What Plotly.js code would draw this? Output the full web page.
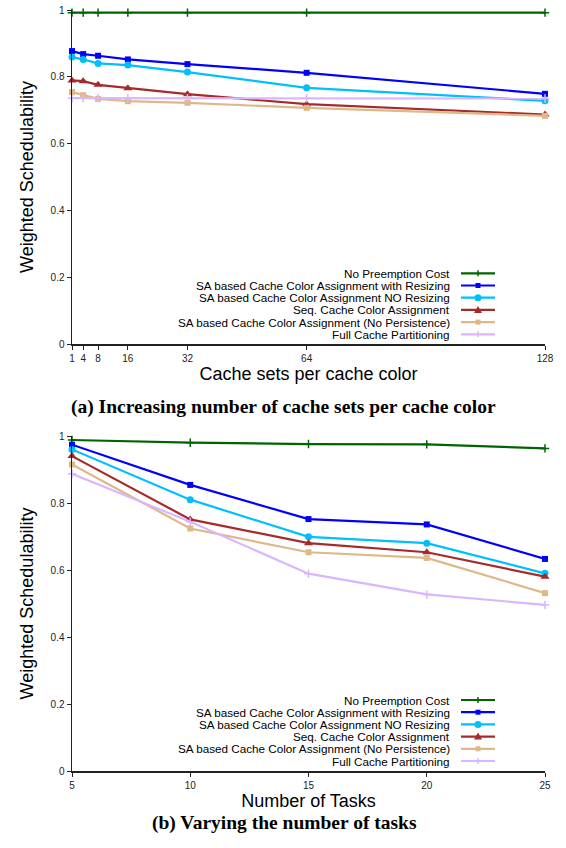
<!DOCTYPE html>
<html>
<head>
<meta charset="utf-8">
<script src="https://cdn.plot.ly/plotly-3.0.1.min.js"></script>
<style>html,body{margin:0;padding:0;background:#fff;}#chart{width:566px;height:848px;}</style>
</head>
<body>
<div id="chart"></div>
<script>
// ---- data ----
const seriesNames = [
  "No Preemption Cost",
  "SA based Cache Color Assignment with Resizing",
  "SA based Cache Color Assignment NO Resizing",
  "Seq. Cache Color Assignment",
  "SA based Cache Color Assignment (No Persistence)",
  "Full Cache Partitioning"
];
// (a) cache sets per cache color
const xA = [1, 4, 8, 16, 32, 64, 128];
const xTicksA = [1, 4, 8, 16, 32, 64, 128];
const noPreemptA = [0.992, 0.992, 0.992, 0.992, 0.992, 0.992, 0.992];
const resizeA    = [0.877, 0.868, 0.863, 0.852, 0.838, 0.812, 0.749];
const noResizeA  = [0.859, 0.852, 0.840, 0.835, 0.814, 0.767, 0.728];
const seqA       = [0.789, 0.787, 0.776, 0.766, 0.748, 0.718, 0.687];
const noPersistA = [0.754, 0.745, 0.734, 0.727, 0.722, 0.707, 0.683];
const fullA      = [0.736, 0.736, 0.736, 0.736, 0.736, 0.736, 0.735];
// (b) number of tasks
const xB = [5, 10, 15, 20, 25];
const xTicksB = [5, 10, 15, 20, 25];
const noPreemptB = [0.988, 0.980, 0.976, 0.975, 0.963];
const resizeB    = [0.974, 0.854, 0.752, 0.736, 0.633];
const noResizeB  = [0.960, 0.810, 0.699, 0.680, 0.590];
const seqB       = [0.940, 0.751, 0.680, 0.653, 0.580];
const noPersistB = [0.915, 0.724, 0.653, 0.636, 0.531];
const fullB      = [0.887, 0.744, 0.589, 0.527, 0.496];
const yTicks = [0, 0.2, 0.4, 0.6, 0.8, 1];
const yTickText = ["0", "0.2", "0.4", "0.6", "0.8", "1"];

// ---- styles ----
const colors = ["#006400", "#0000ff", "#00bfff", "#a52a2a", "#deb887", "#dab6ff"];
const symbols = ["cross-thin", "square", "circle", "triangle-up", "square", "cross-thin"];
const sizes = [6, 6, 7, 8, 6, 6];

const W = 566, H = 848;
const px = x => x / W;
const py = y => 1 - y / H;

function makeTraces(x, ys, xa, ya) {
  return ys.map((y, i) => ({
    type: "scatter", mode: "lines+markers", x: x, y: y,
    xaxis: xa, yaxis: ya, name: seriesNames[i], showlegend: false,
    cliponaxis: false,
    line: {color: colors[i], width: 2.2},
    marker: {
      color: colors[i], symbol: symbols[i], size: sizes[i],
      line: {color: colors[i], width: symbols[i] === "cross-thin" ? 1.5 : 0}
    }
  }));
}

const data = [
  ...makeTraces(xA, [noPreemptA, resizeA, noResizeA, seqA, noPersistA, fullA], "x", "y"),
  ...makeTraces(xB, [noPreemptB, resizeB, noResizeB, seqB, noPersistB, fullB], "x2", "y2")
];

const tickFont = {family: "Liberation Sans, Arial, sans-serif", size: 10, color: "#222"};
const titleFont = {family: "Liberation Sans, Arial, sans-serif", size: 18, color: "#000"};

function xaxis(domain, range, ticks, title, anchor) {
  return {
    domain: domain, range: range, tickvals: ticks, ticktext: ticks.map(String),
    showgrid: false, zeroline: false, showline: true, linecolor: "#222", linewidth: 1.5,
    ticks: "outside", ticklen: 4, tickwidth: 1, tickcolor: "#222",
    tickfont: tickFont, anchor: anchor, automargin: false,
    title: {text: title, font: titleFont, standoff: 5}
  };
}
function yaxis(domain, anchor) {
  return {
    domain: domain, range: [0, 1], tickvals: yTicks, ticktext: yTickText,
    showgrid: false, zeroline: false, showline: true, linecolor: "#222", linewidth: 1.5,
    ticks: "outside", ticklen: 4, tickwidth: 1, tickcolor: "#222",
    tickfont: tickFont, anchor: anchor, automargin: false,
    title: {text: "Weighted Schedulability", font: titleFont, standoff: 12}
  };
}

const xDom = [px(72), px(545)];
const layout = {
  width: W, height: H,
  margin: {l: 0, r: 0, t: 0, b: 0, autoexpand: false},
  paper_bgcolor: "#fff", plot_bgcolor: "#fff",
  showlegend: false,
  xaxis: xaxis(xDom, [1, 128], xTicksA, "Cache sets per cache color", "y"),
  yaxis: yaxis([py(344), py(10)], "x"),
  xaxis2: xaxis(xDom, [5, 25], xTicksB, "Number of Tasks", "y2"),
  yaxis2: yaxis([py(771), py(436)], "x2"),
  annotations: [],
  shapes: []
};

// captions
const capFont = {family: "Liberation Serif, Times New Roman, serif", size: 19.5, color: "#000", weight: "bold"};
layout.annotations.push({xref: "paper", yref: "paper", x: px(283), y: py(407), text: "<b>(a) Increasing number of cache sets per cache color</b>", showarrow: false, xanchor: "center", yanchor: "middle", font: capFont});
layout.annotations.push({xref: "paper", yref: "paper", x: px(284), y: py(823), text: "<b>(b) Varying the number of tasks</b>", showarrow: false, xanchor: "center", yanchor: "middle", font: capFont});

// legends (text right-aligned, sample on the right)
const legFont = {family: "Liberation Sans, Arial, sans-serif", size: 11.7, color: "#000"};
function addLegend(top) {
  const step = 12.2;
  const xl0 = 461, xl1 = 495, xm = 478;
  seriesNames.forEach((nm, i) => {
    const yy = top + i * step;
    layout.annotations.push({xref: "paper", yref: "paper", x: px(452), y: py(yy), text: nm, showarrow: false, xanchor: "right", yanchor: "middle", font: legFont});
    layout.shapes.push({type: "line", xref: "paper", yref: "paper", x0: px(xl0), x1: px(xl1), y0: py(yy), y1: py(yy), line: {color: colors[i], width: 2.2}});
    const s = symbols[i];
    if (s === "square") {
      layout.shapes.push({type: "rect", xref: "paper", yref: "paper", x0: px(xm - 2.5), x1: px(xm + 2.5), y0: py(yy + 2.5), y1: py(yy - 2.5), fillcolor: colors[i], line: {width: 0}});
    } else if (s === "circle") {
      layout.shapes.push({type: "circle", xref: "paper", yref: "paper", x0: px(xm - 3.5), x1: px(xm + 3.5), y0: py(yy + 3.5), y1: py(yy - 3.5), fillcolor: colors[i], line: {width: 0}});
    } else if (s === "triangle-up") {
      layout.shapes.push({type: "path", xref: "paper", yref: "paper",
        path: `M ${px(xm)} ${py(yy - 4)} L ${px(xm + 4)} ${py(yy + 3)} L ${px(xm - 4)} ${py(yy + 3)} Z`,
        fillcolor: colors[i], line: {width: 0}});
    } else {
      layout.shapes.push({type: "line", xref: "paper", yref: "paper", x0: px(xm), x1: px(xm), y0: py(yy - 3), y1: py(yy + 3), line: {color: colors[i], width: 1.5}});
    }
  });
}
addLegend(273.3);
addLegend(700);

Plotly.newPlot("chart", data, layout, {staticPlot: true, displayModeBar: false});
</script>
</body>
</html>
